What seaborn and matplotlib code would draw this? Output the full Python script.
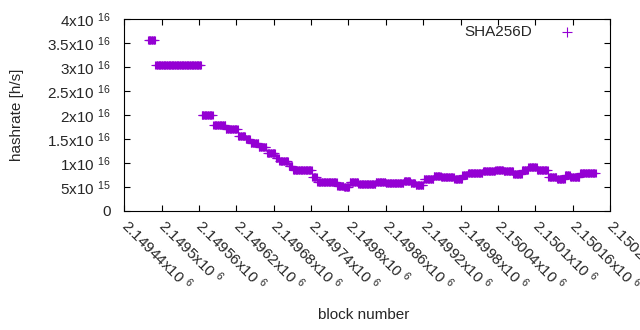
import numpy as np
import pandas as pd
import matplotlib
matplotlib.use("Agg")
import matplotlib.pyplot as plt
import seaborn as sns

# piecewise-constant hashrate readings (block ranges and hashrate in 1e16 h/s)
seg_start = [2149478, 2149490, 2149564, 2149583, 2149603, 2149623, 2149635, 2149643,
             2149656, 2149669, 2149683, 2149689, 2149704, 2149711, 2149742, 2149750,
             2149782, 2149793, 2149802, 2149816, 2149844, 2149860, 2149889, 2149900,
             2149908, 2149921, 2149937, 2149949, 2149970, 2149983, 2149992, 2150016,
             2150036, 2150049, 2150065, 2150079, 2150089, 2150103, 2150121, 2150135,
             2150148, 2150156, 2150172]
seg_end = [2149489, 2149563, 2149582, 2149602, 2149622, 2149634, 2149642, 2149655,
           2149668, 2149682, 2149688, 2149703, 2149710, 2149741, 2149749, 2149781,
           2149792, 2149801, 2149815, 2149843, 2149859, 2149888, 2149899, 2149907,
           2149920, 2149936, 2149948, 2149969, 2149982, 2149991, 2150015, 2150035,
           2150048, 2150064, 2150078, 2150088, 2150102, 2150120, 2150134, 2150147,
           2150155, 2150171, 2150197]
seg_hashrate_e16 = [3.555, 3.035, 2.0, 1.785, 1.70, 1.57, 1.51, 1.41, 1.33, 1.205,
                    1.10, 1.04, 0.94, 0.85, 0.70, 0.60, 0.52, 0.49, 0.60, 0.556,
                    0.604, 0.576, 0.625, 0.576, 0.55, 0.66, 0.736, 0.715, 0.66, 0.75,
                    0.785, 0.833, 0.854, 0.826, 0.77, 0.854, 0.91, 0.847, 0.70, 0.67,
                    0.76, 0.715, 0.785]

x_ticks = [2149440, 2149500, 2149560, 2149620, 2149680, 2149740, 2149800, 2149860,
           2149920, 2149980, 2150040, 2150100, 2150160, 2150220]
x_tick_labels = ["2.14944x10 $^{6}$", "2.1495x10 $^{6}$", "2.14956x10 $^{6}$",
                 "2.14962x10 $^{6}$", "2.14968x10 $^{6}$", "2.14974x10 $^{6}$",
                 "2.1498x10 $^{6}$", "2.14986x10 $^{6}$", "2.14992x10 $^{6}$",
                 "2.14998x10 $^{6}$", "2.15004x10 $^{6}$", "2.1501x10 $^{6}$",
                 "2.15016x10 $^{6}$", "2.15022x10 $^{6}$"]
y_ticks = [0, 0.5e16, 1e16, 1.5e16, 2e16, 2.5e16, 3e16, 3.5e16, 4e16]
y_tick_labels = ["0", "5x10 $^{15}$", "1x10 $^{16}$", "1.5x10 $^{16}$", "2x10 $^{16}$",
                 "2.5x10 $^{16}$", "3x10 $^{16}$", "3.5x10 $^{16}$", "4x10 $^{16}$"]

# one point per block inside each reading range
blocks, rates = [], []
for s, e, v in zip(seg_start, seg_end, seg_hashrate_e16):
    b = np.arange(s, e + 1)
    blocks.append(b)
    rates.append(np.full(len(b), v * 1e16))
df = pd.DataFrame({"block": np.concatenate(blocks), "hashrate": np.concatenate(rates)})

sns.set_style("white")
plt.rcParams["font.family"] = ["Liberation Sans", "DejaVu Sans"]
plt.rcParams["mathtext.default"] = "regular"

fig = plt.figure(figsize=(6.4, 3.3), dpi=100)
ax = fig.add_axes([124.3 / 640, 1 - 211 / 330, (610 - 124.3) / 640, (211 - 19) / 330])

color = "#9400D3"
sns.scatterplot(data=df, x="block", y="hashrate", marker="+", s=30, color=color,
                linewidth=0.8, ax=ax, label="SHA256D")

ax.set_xlim(2149440, 2150220)
ax.set_ylim(0, 4e16)
ax.set_xticks(x_ticks)
ax.set_xticklabels(x_tick_labels, rotation=-45, ha="left", va="center",
                   rotation_mode="anchor", fontsize=11)
ax.set_yticks(y_ticks)
ax.set_yticklabels(y_tick_labels, fontsize=11)
ax.tick_params(axis="both", direction="in", length=4.3, width=0.8,
               top=True, right=True, bottom=True, left=True, color="black")
ax.tick_params(axis="x", pad=8)
ax.tick_params(axis="y", pad=10)
for sp in ax.spines.values():
    sp.set_visible(True)
    sp.set_color("black")
    sp.set_linewidth(0.8)

ax.set_xlabel("block number", fontsize=11)
ax.set_ylabel("hashrate [h/s]", fontsize=11)
ax.xaxis.set_label_coords((364 - 124.3) / (610 - 124.3), -(315 - 211) / 192)
ax.yaxis.set_label_coords(-(124.3 - 17) / (610 - 124.3), (211 - 115) / 192)
ax.xaxis.label.set_va("center")
ax.yaxis.label.set_va("center")

leg = ax.legend(loc="center right", bbox_to_anchor=(590 / 640, 1 - 32 / 330),
                bbox_transform=fig.transFigure, frameon=False, markerfirst=False,
                borderpad=0, handlelength=2.0, handletextpad=1.3, fontsize=11,
                markerscale=1.3)

fig.savefig("out.png", dpi=100)
